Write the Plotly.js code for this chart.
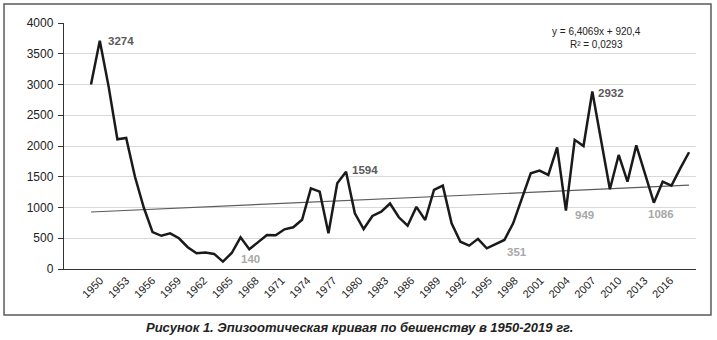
<!DOCTYPE html>
<html>
<head>
<meta charset="utf-8">
<script src="https://cdn.plot.ly/plotly-3.0.1.min.js"></script>
<style>
  html, body { margin: 0; padding: 0; background: #fff; }
  #chart { width: 717px; height: 340px; }
</style>
</head>
<body>
<div id="chart"></div>
<script>
// ---- data ----
const years = [];
for (let y = 1950; y <= 2018; y++) years.push(y);

const cases = [
  3000, 3710, 2970, 2110, 2130, 1500, 1000, 600, 540, 580,   // 1950-1959
  500, 355, 255, 270, 245, 120, 260, 515, 320, 430,          // 1960-1969
  553, 548, 645, 678, 800, 1310, 1257, 580, 1393, 1580,      // 1970-1979
  905, 650, 862, 932, 1065, 841, 704, 1010, 797, 1285,       // 1980-1989
  1355, 743, 444, 380, 490, 336, 401, 472, 743, 1150,        // 1990-1999
  1556, 1600, 1530, 1978, 950, 2100, 2000, 2885, 2090, 1296, // 2000-2009
  1854, 1420, 2010, 1540, 1078, 1420, 1355, 1637, 1898       // 2010-2018
];

const tickYears = [1950,1953,1956,1959,1962,1965,1968,1971,1974,1977,1980,1983,1986,1989,1992,1995,1998,2001,2004,2007,2010,2013,2016];

// linear trend as given: y = 6,4069x + 920,4 (x = 1..n)
const trendSlope = 6.4069;
const trendIntercept = 920.4;
const trendText = "y = 6,4069x + 920,4<br>R² = 0,0293";

// data labels
const labelYears = [1951, 1965, 1979, 1995, 2004, 2007, 2014];
const labelTexts = ["3274", "140", "1594", "351", "949", "2932", "1086"];

const caption = "Рисунок 1. Эпизоотическая кривая по бешенству в 1950-2019 гг.";

// ---- styling for labels (shift in px, colour) ----
const labelStyle = [
  {dx: 6, dy: 0, c: "#5a5a5a"},
  {dx: 16, dy: 3, c: "#a8a8a8"},
  {dx: 4, dy: 2, c: "#5a5a5a"},
  {dx: 18, dy: -4, c: "#a8a8a8"},
  {dx: 7, dy: -4, c: "#a8a8a8"},
  {dx: 4, dy: -1, c: "#5a5a5a"},
  {dx: -8, dy: -11, c: "#a8a8a8"}
];

const trendY = years.map((_, i) => trendSlope * (i + 1) + trendIntercept);

const FONT = "Liberation Sans, Arial, Helvetica, sans-serif";

const traces = [
  {
    x: years, y: trendY, type: "scatter", mode: "lines",
    line: {color: "#5c5c5c", width: 1.2},
    hoverinfo: "skip", showlegend: false
  },
  {
    x: years, y: cases, type: "scatter", mode: "lines",
    line: {color: "#1a1a1a", width: 2.5},
    showlegend: false
  },
  {
    x: tickYears, y: tickYears.map(() => null), xaxis: "x2", type: "scatter",
    mode: "lines", hoverinfo: "skip", showlegend: false
  }
];

const annotations = labelYears.map((yr, k) => ({
  x: yr, y: cases[years.indexOf(yr)], xref: "x", yref: "y",
  text: labelTexts[k], showarrow: false,
  xanchor: "left", yanchor: "middle",
  xshift: labelStyle[k].dx, yshift: labelStyle[k].dy,
  font: {family: FONT, size: 11.5, color: labelStyle[k].c, weight: "bold"}
}));

annotations.push({
  x: 0.843, y: 0.937, xref: "paper", yref: "paper",
  text: trendText, showarrow: false, align: "center",
  xanchor: "center", yanchor: "middle",
  font: {family: FONT, size: 10, color: "#222"}
});

annotations.push({
  x: 0.4676, y: -0.236, xref: "paper", yref: "paper",
  text: "<b><i>" + caption + "</i></b>", showarrow: false,
  xanchor: "center", yanchor: "middle",
  font: {family: FONT, size: 13, color: "#222"}
});

const layout = {
  width: 717, height: 340,
  margin: {l: 64, r: 21, t: 23, b: 71},
  paper_bgcolor: "#fff", plot_bgcolor: "#fff",
  font: {family: FONT, color: "#222"},
  xaxis: {
    range: [1946.93, 2018.79], showticklabels: false, showgrid: false,
    zeroline: false, showline: true, linecolor: "#333", linewidth: 1.2, ticks: ""
  },
  xaxis2: {
    overlaying: "x", anchor: "y", side: "bottom",
    range: [1945.80, 2018.98], tickmode: "array", tickvals: tickYears,
    ticktext: tickYears.map(String), tickangle: -45,
    tickfont: {family: FONT, size: 11, color: "#222"},
    ticklabelstandoff: 2,
    showgrid: false, zeroline: false, showline: false, ticks: ""
  },
  yaxis: {
    range: [0, 4000], dtick: 500, tick0: 0,
    showgrid: true, gridcolor: "#d9d9d9", gridwidth: 1,
    zeroline: false, showline: true, linecolor: "#333", linewidth: 1.2,
    ticks: "outside", ticklen: 5, tickcolor: "#333",
    ticklabelstandoff: 2,
    tickfont: {family: FONT, size: 12, color: "#222"}
  },
  shapes: [{
    type: "rect", xref: "paper", yref: "paper",
    x0: -0.0949, x1: 1.0237, y0: -0.187, y1: 1.0772,
    line: {color: "#5a5a5a", width: 1.5}, fillcolor: "rgba(0,0,0,0)"
  }],
  annotations: annotations
};

Plotly.newPlot("chart", traces, layout, {staticPlot: true, displayModeBar: false});
</script>
</body>
</html>
